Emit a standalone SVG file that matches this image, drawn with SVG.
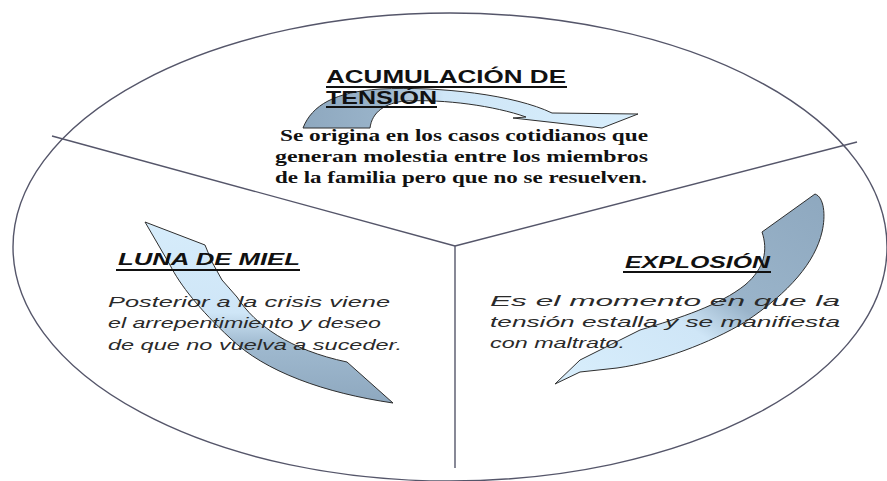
<svg xmlns="http://www.w3.org/2000/svg" width="887" height="481" viewBox="0 0 887 481">
  <style>
    .frame { fill: none; stroke: #55566a; stroke-width: 1.4; }
    .arrow { stroke: #2e2e2e; stroke-width: 1; stroke-linejoin: round; }
    .title { font-family: "Liberation Sans", Arial, sans-serif; font-weight: bold; font-size: 18px; fill: #111; }
    .head { font-family: "Liberation Sans", Arial, sans-serif; font-weight: bold; font-style: italic; font-size: 17px; fill: #111; }
    .body-serif { font-family: "Liberation Serif", "Times New Roman", serif; font-weight: bold; font-size: 17px; fill: #111; }
    .body-it { font-family: "Liberation Sans", Arial, sans-serif; font-style: italic; font-size: 15px; fill: #2a2a2a; }
    .ul { stroke: #111; stroke-width: 2; }
  </style>
  <defs>
    <linearGradient id="gTop" x1="0" y1="0" x2="1" y2="0">
      <stop offset="0" stop-color="#8ea8bf"/>
      <stop offset="0.25" stop-color="#9ab4ca"/>
      <stop offset="0.42" stop-color="#cfe6f7"/>
      <stop offset="1" stop-color="#d8eefc"/>
    </linearGradient>
    <linearGradient id="gLeft" x1="0" y1="0" x2="0" y2="1">
      <stop offset="0" stop-color="#d6ecfb"/>
      <stop offset="0.5" stop-color="#cfe6f7"/>
      <stop offset="0.68" stop-color="#9fb9cf"/>
      <stop offset="1" stop-color="#8ea8bf"/>
    </linearGradient>
    <linearGradient id="gRight" x1="1" y1="0" x2="0" y2="1">
      <stop offset="0" stop-color="#8ea8bf"/>
      <stop offset="0.45" stop-color="#9ab4ca"/>
      <stop offset="0.6" stop-color="#cfe6f7"/>
      <stop offset="1" stop-color="#d8eefc"/>
    </linearGradient>
  </defs>
  <rect width="887" height="481" fill="#ffffff"/>

  <g id="frame">
    <ellipse class="frame" cx="450" cy="247" rx="437" ry="234"/>
    <line class="frame" x1="52" y1="136" x2="455" y2="246"/>
    <line class="frame" x1="857" y1="142" x2="455" y2="246"/>
    <line class="frame" x1="455" y1="246" x2="455" y2="468"/>
  </g>

  <g id="connectors">
    <path class="arrow" fill="url(#gTop)" d="M303,128 C312,105 335,92 380,89 C440,86 515,95 552,113 L638,114 L602,128 L513,118 L526,117 C495,106 445,99 405,101 C385,103 372,112 370,128 Z"/>
    <path class="arrow" fill="url(#gLeft)" d="M145,222 L205,245 L212,262 L222,280 L237,297 C255,325 290,350 347,362 L393,403 C325,393 265,372 230,338 C200,310 180,285 170,265 Z"/>
    <path class="arrow" fill="url(#gRight)" d="M815,194 C824,197 826,215 822,232 C815,262 790,292 745,322 C710,343 660,362 617,368 L580,372 L555,384 L580,360 L640,330 C680,318 720,305 745,285 C765,268 768,250 762,232 Z"/>
  </g>

  <g id="node-acumulacion">
    <text class="title" x="326" y="83" textLength="240" lengthAdjust="spacingAndGlyphs">ACUMULACIÓN DE</text>
    <line class="ul" x1="326" y1="87" x2="567" y2="87"/>
    <text class="title" x="326" y="104" textLength="111" lengthAdjust="spacingAndGlyphs">TENSIÓN</text>
    <line class="ul" x1="326" y1="107" x2="437" y2="107"/>
    <text class="body-serif" x="280" y="141" textLength="368" lengthAdjust="spacingAndGlyphs">Se origina en los casos cotidianos que</text>
    <text class="body-serif" x="275" y="162" textLength="373" lengthAdjust="spacingAndGlyphs">generan molestia entre los miembros</text>
    <text class="body-serif" x="275" y="183" textLength="372" lengthAdjust="spacingAndGlyphs">de la familia pero que no se resuelven.</text>
  </g>

  <g id="node-luna">
    <text class="head" x="118" y="265" textLength="182" lengthAdjust="spacingAndGlyphs">LUNA DE MIEL</text>
    <line class="ul" x1="116" y1="270" x2="300" y2="270"/>
    <text class="body-it" x="108" y="307" textLength="282" lengthAdjust="spacingAndGlyphs">Posterior a la crisis viene</text>
    <text class="body-it" x="108" y="328" textLength="273" lengthAdjust="spacingAndGlyphs">el arrepentimiento y deseo</text>
    <text class="body-it" x="108" y="350" textLength="294" lengthAdjust="spacingAndGlyphs">de que no vuelva a suceder.</text>
  </g>

  <g id="node-explosion">
    <text class="head" x="625" y="268" textLength="145" lengthAdjust="spacingAndGlyphs">EXPLOSIÓN</text>
    <line class="ul" x1="623" y1="272" x2="771" y2="272"/>
    <text class="body-it" x="490" y="306" textLength="350" lengthAdjust="spacingAndGlyphs">Es el momento en que la</text>
    <text class="body-it" x="490" y="327" textLength="350" lengthAdjust="spacingAndGlyphs">tensión estalla y se manifiesta</text>
    <text class="body-it" x="490" y="348" textLength="135" lengthAdjust="spacingAndGlyphs">con maltrato.</text>
  </g>
</svg>
